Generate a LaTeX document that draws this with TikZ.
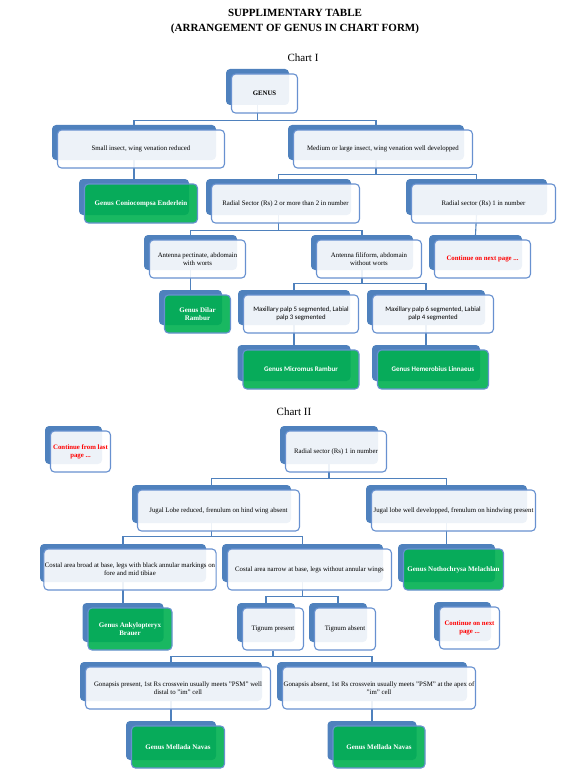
\documentclass[tikz,border=0pt]{standalone}
\usepackage{fontspec}
\setmainfont{Liberation Serif}
\newfontfamily\calibrifont{Carlito}
\usepackage{tikz}
\usetikzlibrary{positioning, calc, backgrounds}

\definecolor{backblue}{RGB}{79,129,189}
\definecolor{edgeblue}{RGB}{104,145,208}
\definecolor{linkblue}{RGB}{79,129,189}
\definecolor{genusgreen}{RGB}{0,176,80}

\tikzset{
  backbox/.style={fill=backblue, rounded corners=4pt, inner sep=0pt},
  keybox/.style={draw=edgeblue, line width=1.1pt, fill=white, fill opacity=0.9,
    text opacity=1, rounded corners=4pt, inner sep=1pt, align=center,
    font=\fontsize{6.8}{8}\selectfont},
  calbox/.style={keybox, font=\fontsize{6.8}{8}\selectfont\calibrifont},
  genusbox/.style={keybox, fill=genusgreen, text=white,
    font=\fontsize{7}{8.2}\selectfont\bfseries},
  calgenus/.style={genusbox, font=\fontsize{7}{8.2}\selectfont\calibrifont\bfseries},
  nextbox/.style={keybox, text=red, font=\fontsize{6.8}{8}\selectfont\bfseries},
  link/.style={draw=linkblue, line width=1.1pt},
}

% back card (named) and the lighter card laid over it (name-f)
\newcommand{\stackbox}[7]{%
  \node[backbox, minimum width=#4, minimum height=#5] (#1) at (#2,#3) {};
  \node[#6, minimum width=#4+3, minimum height=#5+3] (#1-f)
    at ($(#1.center)+(7,6.5)$) {#7};
}

\begin{document}
\begin{tikzpicture}[x=1pt, y=-1pt]
  \useasboundingbox (0,0) rectangle (588,781);

  \node[font=\fontsize{11}{14.5}\selectfont\bfseries, align=center] (title) at (295,21.5)
    {SUPPLIMENTARY TABLE\\(ARRANGEMENT OF GENUS IN CHART FORM)};

  % Chart I
  \node[font=\fontsize{11}{13}\selectfont] (chartone) at (303,58) {Chart I};
  \stackbox{genus}{257.5}{87}{63}{36}{keybox}{\textbf{GENUS}}
  \stackbox{small}{134}{142.5}{164}{35}{keybox}{Small insect, wing venation reduced}
  \stackbox{medium}{376}{142.5}{176}{35}{keybox}{Medium or large insect, wing venation well developped}
  \stackbox{conio}{134}{197}{110}{36}{genusbox}{Genus Coniocompsa Enderlein}
  \stackbox{radtwo}{278.5}{197}{145}{36}{keybox}{Radial Sector (Rs) 2 or more than 2 in number}
  \stackbox{radone}{476.5}{197}{141}{36}{keybox}{Radial sector (Rs) 1 in number}
  \stackbox{antpec}{190.5}{252.5}{93}{35}{keybox}{Antenna pectinate, abdomain\\with worts}
  \stackbox{antfil}{362}{252.5}{102}{35}{keybox}{Antenna filiform, abdomain\\without worts}
  \stackbox{nextone}{475.5}{252.5}{93}{35}{nextbox}{Continue on next page ...}
  \stackbox{dilar}{190.5}{307.5}{63}{35}{genusbox}{Genus Dilar\\Rambur}
  \stackbox{maxfive}{294}{307.5}{112}{35}{calbox}{Maxillary palp 5 segmented, Labial\\palp 3 segmented}
  \stackbox{maxsix}{426}{307.5}{118}{35}{calbox}{Maxillary palp 6 segmented, Labial\\palp 4 segmented}
  \stackbox{micromus}{294}{363}{113}{36}{calgenus}{Genus Micromus Rambur}
  \stackbox{hemero}{426}{363}{108}{36}{calgenus}{Genus Hemerobius Linnaeus}

  % Chart II
  \node[font=\fontsize{11}{13}\selectfont] (charttwo) at (294,412) {Chart II};
  \stackbox{fromlast}{73.5}{445}{57}{38}{nextbox}{Continue from last\\page ...}
  \stackbox{radsub}{329}{445}{98}{38}{keybox}{Radial sector (Rs) 1 in number}
  \stackbox{jugalred}{211.5}{504}{159}{38}{keybox}{Jugal Lobe reduced, frenulum on hind wing absent}
  \stackbox{jugalwell}{446.5}{504}{161}{38}{keybox}{Jugal lobe well developped, frenulum on hindwing present}
  \stackbox{costbroad}{123}{563}{166}{38}{keybox}{Costal area broad at base, legs with black annular markings on\\fore and mid tibiae}
  \stackbox{costnarrow}{302.5}{563}{161}{38}{keybox}{Costal area narrow at base, legs without annular wings}
  \stackbox{notho}{446.5}{563}{97}{38}{genusbox}{Genus Nothochrysa Melachlan}
  \stackbox{ankylo}{123}{622.5}{81}{39}{genusbox}{Genus Ankylopteryx\\Brauer}
  \stackbox{tigpres}{266}{622.5}{58}{39}{keybox}{Tignum present}
  \stackbox{tigabs}{338}{622.5}{58}{39}{keybox}{Tignum absent}
  \stackbox{nexttwo}{462.5}{621.5}{57}{39}{nextbox}{Continue on next\\page ...}
  \stackbox{gonpres}{171}{681.5}{182}{39}{keybox}{Gonapsis present, 1st Rs crossvein usually meets "PSM" well\\distal to "im" cell}
  \stackbox{gonabs}{372}{681.5}{190}{39}{keybox}{Gonapsis absent, 1st Rs crossvein usually meets "PSM" at the apex of\\"im" cell}
  \stackbox{mellone}{171}{740.5}{90}{39}{genusbox}{Genus Mellada Navas}
  \stackbox{melltwo}{372}{740.5}{89}{39}{genusbox}{Genus Mellada Navas}

  % elbow connectors, kept under the cards
  \begin{scope}[on background layer]
    \draw[link] (genus.south) -- +(0,15) -| (small.north);
    \draw[link] (genus.south) -- +(0,15) -| (medium.north);
    \draw[link] (small.south) -- (conio.north);
    \draw[link] (medium.south) -- +(0,14) -| (radtwo.north);
    \draw[link] (medium.south) -- +(0,14) -| (radone.north);
    \draw[link] (radtwo.south) -- +(0,15) -| (antpec.north);
    \draw[link] (radtwo.south) -- +(0,15) -| (antfil.north);
    \draw[link] (radone.south) -- (nextone.north);
    \draw[link] (antpec.south) -- (dilar.north);
    \draw[link] (antfil.south) -- +(0,13) -| (maxfive.north);
    \draw[link] (antfil.south) -- +(0,13) -| (maxsix.north);
    \draw[link] (maxfive.south) -- (micromus.north);
    \draw[link] (maxsix.south) -- (hemero.north);

    \draw[link] (radsub.south) -- +(0,14) -| (jugalred.north);
    \draw[link] (radsub.south) -- +(0,14) -| (jugalwell.north);
    \draw[link] (jugalred.south) -- +(0,13) -| (costbroad.north);
    \draw[link] (jugalred.south) -- +(0,13) -| (costnarrow.north);
    \draw[link] (jugalwell.south) -- (notho.north);
    \draw[link] (costbroad.south) -- (ankylo.north);
    \draw[link] (costnarrow.south) -- +(0,14) -| (tigpres.north);
    \draw[link] (costnarrow.south) -- +(0,14) -| (tigabs.north);
    \draw[link] (tigpres-f.south) -- +(0,6) -| (gonpres.north);
    \draw[link] (tigpres-f.south) -- +(0,6) -| (gonabs.north);
    \draw[link] (gonpres.south) -- (mellone.north);
    \draw[link] (gonabs.south) -- (melltwo.north);
  \end{scope}
\end{tikzpicture}
\end{document}
